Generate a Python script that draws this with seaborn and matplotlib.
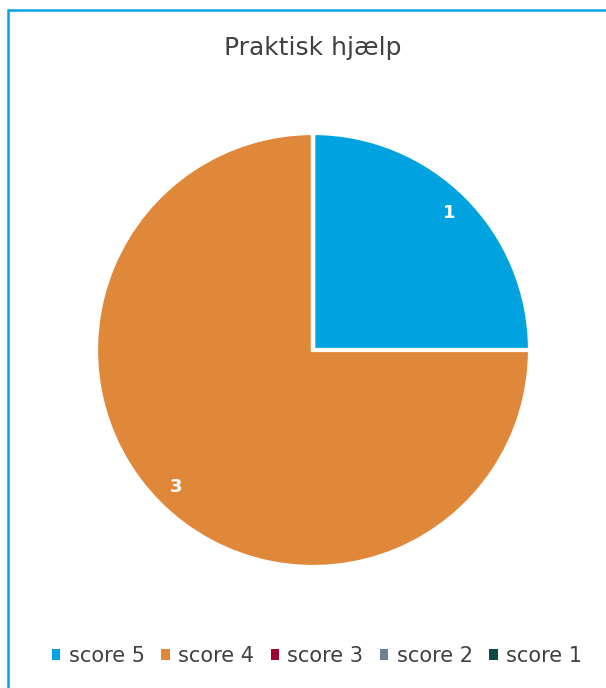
import matplotlib
matplotlib.use("Agg")
import matplotlib.pyplot as plt
import seaborn as sns
from matplotlib.patches import Rectangle

sns.set_theme(style="white")
plt.rcParams['font.family'] = ['DejaVu Sans']

title = "Praktisk hjælp"
categories = ["score 5", "score 4", "score 3", "score 2", "score 1"]
values = [1, 3, 0, 0, 0]
colors = ["#00A3E0", "#E0883A", "#A0002F", "#6E8194", "#0E4A45"]

W, H = 606, 688
fig = plt.figure(figsize=(W / 100, H / 100), dpi=100)
fig.patch.set_facecolor("white")

# border (left and top visible)
fig.add_artist(Rectangle((8 / W, -0.1), 1.2, 1 - 10 / H + 0.1, transform=fig.transFigure,
                         fill=False, edgecolor="#00A3E0", linewidth=1.8))

cx, cy, r = 313, 350, 217
ax = fig.add_axes([(cx - r) / W, (H - cy - r) / H, 2 * r / W, 2 * r / H])
total = sum(values)

def fmt(p):
    v = round(p * total / 100)
    return f"{v}" if v > 0 else ""

wedges, _, autotexts = ax.pie(values, colors=colors, startangle=90, counterclock=False,
                              autopct=fmt, pctdistance=0.89,
                              wedgeprops=dict(edgecolor="white", linewidth=3),
                              textprops=dict(color="white", fontsize=13, fontweight="bold"))
ax.set_xlim(-1, 1)
ax.set_ylim(-1, 1)
ax.set_aspect("equal")
ax.axis("off")

fig.text(cx / W, 1 - 48 / H, title, ha="center", va="center", fontsize=18, color="#404040")

leg = fig.legend(wedges, categories, loc="center", bbox_to_anchor=(317 / W, 1 - 656 / H),
                 ncol=5, frameon=False, fontsize=15, handlelength=0.4, handleheight=0.4,
                 handletextpad=0.4, columnspacing=0.8, labelcolor="#404040")
for h in leg.legend_handles:
    h.set_edgecolor("none")

fig.savefig("out.png", dpi=100, facecolor="white")
